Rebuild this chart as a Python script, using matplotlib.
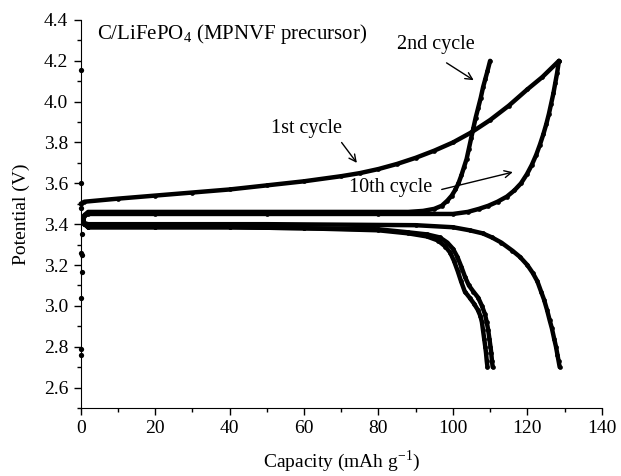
import numpy as np
import matplotlib
matplotlib.use("Agg")
import matplotlib.pyplot as plt
from matplotlib.ticker import MultipleLocator, FormatStrFormatter

plt.rcParams['font.family'] = ['Liberation Serif', 'DejaVu Serif']
plt.rcParams['mathtext.fontset'] = 'custom'
plt.rcParams['mathtext.rm'] = 'Liberation Serif'

# values: (capacity mAh/g, potential V)
cap_1st_charge = [0.0, 1, 10, 20, 30, 40, 50, 60, 70, 75, 80, 85, 90, 95, 100, 105, 110, 115, 120, 124, 128.5]
v_1st_charge = [3.50, 3.51, 3.525, 3.54, 3.555, 3.57, 3.59, 3.61, 3.635, 3.65, 3.67, 3.695, 3.725, 3.76,
                3.80, 3.85, 3.91, 3.98, 4.06, 4.12, 4.20]

cap_2nd_charge = [0.7, 1.0, 2.0, 20, 50, 88, 92, 95, 97, 98.5, 99.7, 100.7, 101.5, 102.3, 103, 103.7,
                  104.3, 104.9, 105.5, 106.1, 106.8, 107.5, 108.1, 108.7, 109.3, 110]
v_2nd_charge = [3.425, 3.445, 3.46, 3.46, 3.46, 3.46, 3.465, 3.475, 3.49, 3.515, 3.54, 3.57, 3.60, 3.64,
                3.68, 3.72, 3.77, 3.82, 3.87, 3.92, 3.97, 4.02, 4.07, 4.11, 4.15, 4.20]

cap_10th_charge = [0.7, 1.0, 2.0, 20, 50, 80, 100, 104, 107, 109.5, 112, 114.5, 116.5, 118.3, 119.9,
                   121.2, 122.4, 123.4, 124.3, 125.1, 125.8, 126.4, 127, 127.5, 128, 128.5]
v_10th_charge = [3.42, 3.44, 3.45, 3.45, 3.45, 3.45, 3.45, 3.46, 3.475, 3.49, 3.51, 3.535, 3.565, 3.60,
                 3.645, 3.69, 3.74, 3.79, 3.84, 3.89, 3.94, 3.99, 4.04, 4.09, 4.14, 4.20]

cap_dis_a = [0.7, 1.0, 2.0, 20, 40, 60, 80, 88, 93, 96, 98, 99.3, 100.3, 101.3, 102.2, 103.2, 104.5,
             105.7, 106.7, 107.4, 107.8, 108.1, 108.4, 108.7, 108.9, 109.1, 109.3]
v_dis_a = [3.42, 3.40, 3.385, 3.385, 3.385, 3.38, 3.37, 3.355, 3.34, 3.32, 3.29, 3.26, 3.22, 3.17, 3.12,
           3.07, 3.04, 3.01, 2.98, 2.95, 2.92, 2.88, 2.84, 2.80, 2.77, 2.73, 2.70]

cap_dis_b = [0.7, 1.0, 2.0, 20, 40, 60, 80, 88, 93, 96.5, 98.5, 100, 101.2, 102.3, 103.3, 104.3, 105.5,
             106.8, 107.8, 108.6, 109.1, 109.5, 109.8, 110.1, 110.3, 110.5, 110.7]
v_dis_b = [3.42, 3.40, 3.385, 3.385, 3.385, 3.38, 3.375, 3.36, 3.35, 3.335, 3.31, 3.28, 3.24, 3.19, 3.14,
           3.10, 3.07, 3.04, 3.00, 2.96, 2.92, 2.88, 2.84, 2.80, 2.77, 2.73, 2.70]

cap_dis_c = [0.7, 1.0, 2.0, 20, 50, 90, 100, 104.5, 108, 110.5, 113, 116, 118, 120, 121.5, 122.7, 123.7,
             124.5, 125.3, 126, 126.6, 127.2, 127.7, 128.1, 128.4, 128.7]
v_dis_c = [3.42, 3.405, 3.40, 3.40, 3.40, 3.395, 3.385, 3.37, 3.355, 3.335, 3.31, 3.27, 3.24, 3.20, 3.16,
           3.12, 3.07, 3.03, 2.98, 2.93, 2.89, 2.84, 2.80, 2.76, 2.73, 2.70]

# stray points along the y axis
cap_start = [0.1, 0.1, 0.2, 0.3, 0.1, 0.4, 0.3, 0.2, 0.1, 0.1]
v_start = [4.155, 3.60, 3.48, 3.35, 3.26, 3.25, 3.165, 3.04, 2.79, 2.76]

fig, ax = plt.subplots(figsize=(6.21, 4.76), dpi=100)
fig.subplots_adjust(left=0.130, right=0.969, bottom=0.143, top=0.958)

curves = [(cap_1st_charge, v_1st_charge), (cap_2nd_charge, v_2nd_charge),
          (cap_10th_charge, v_10th_charge), (cap_dis_a, v_dis_a),
          (cap_dis_b, v_dis_b), (cap_dis_c, v_dis_c)]
for c, v in curves:
    ax.plot(c, v, color='black', lw=3.2, marker='o', ms=3.4, mew=0,
            solid_capstyle='round', solid_joinstyle='round', clip_on=False)
ax.plot(cap_start, v_start, 'o', color='black', ms=3.8, mew=0, clip_on=False, ls='none')

ax.set_xlim(0, 140)
ax.set_ylim(2.5, 4.4)
ax.xaxis.set_major_locator(MultipleLocator(20))
ax.xaxis.set_minor_locator(MultipleLocator(10))
ax.yaxis.set_major_locator(MultipleLocator(0.2))
ax.yaxis.set_minor_locator(MultipleLocator(0.1))
ax.yaxis.set_major_formatter(FormatStrFormatter('%.1f'))
ax.tick_params(which='major', direction='out', length=5, width=1, labelsize=14, pad=4)
ax.tick_params(which='minor', direction='out', length=3, width=1)
ax.spines['top'].set_visible(False)
ax.spines['right'].set_visible(False)

ax.set_xlabel('Capacity (mAh g$^{-1}$)', fontsize=14, labelpad=8)
ax.set_ylabel('Potential (V)', fontsize=14, labelpad=10)

ax.text(4.3, 4.33, 'C/LiFePO$_4$ (MPNVF precursor)', fontsize=15, va='center', ha='left')

ax.text(95.4, 4.28, '2nd cycle', fontsize=14.5, ha='center', va='center')
ax.text(60.7, 3.87, '1st cycle', fontsize=14.5, ha='center', va='center')
ax.text(83.4, 3.58, '10th cycle', fontsize=14.5, ha='center', va='center')

arrow = dict(arrowstyle='->,head_length=0.5,head_width=0.25', color='black', lw=1,
             shrinkA=0, shrinkB=0)
ax.annotate('', xy=(105.6, 4.105), xytext=(98.3, 4.19), arrowprops=arrow)
ax.annotate('', xy=(74.2, 3.70), xytext=(70.1, 3.80), arrowprops=arrow)
ax.annotate('', xy=(116.1, 3.655), xytext=(97.0, 3.57), arrowprops=arrow)

fig.savefig('out.png', dpi=100)
